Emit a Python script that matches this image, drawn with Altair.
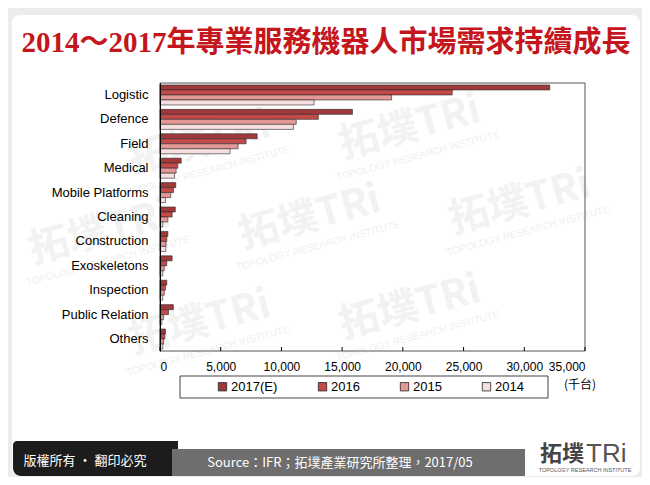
import altair as alt
import pandas as pd

categories = ["Logistic", "Defence", "Field", "Medical", "Mobile Platforms", "Cleaning",
              "Construction", "Exoskeletons", "Inspection", "Public Relation", "Others"]
years = ["2017(E)", "2016", "2015", "2014"]
v2017 = [32100, 15850, 8000, 1750, 1300, 1260, 650, 1000, 560, 1100, 450]
v2016 = [24070, 13040, 7090, 1470, 1110, 1000, 560, 560, 450, 700, 400]
v2015 = [19070, 11220, 6430, 1330, 890, 650, 500, 350, 350, 300, 290]
v2014 = [12690, 11000, 5770, 1200, 450, 230, 480, 230, 230, 150, 230]
colors = ["#A0393A", "#C44A4A", "#E39896", "#F6DEDE"]
tick_values = [0, 5000, 10000, 15000, 20000, 25000, 30000, 35000]

rows = []
for yr, vals in zip(years, [v2017, v2016, v2015, v2014]):
    for c, v in zip(categories, vals):
        rows.append({"category": c, "year": yr, "value": v})
df = pd.DataFrame(rows)

W, H = 425, 268
one = alt.Data(values=[{"k": 1}])

# decorative background panel
panel = alt.Chart(one).mark_rect(fill="white", cornerRadius=8).encode(
    x=alt.value(-148), x2=alt.value(480), y=alt.value(-68), y2=alt.value(393))

# faint watermark tiles (decoration), kept inside the panel
wm_x = [40, 250, -60, 150, 360, 40, 250]
wm_y = [60, 45, 150, 135, 120, 240, 225]
wm_df = pd.DataFrame({"wx": wm_x, "wy": wm_y})
wm1 = alt.Chart(wm_df).mark_text(text="拓墣TRi", fontSize=40, fontWeight="bold",
                                 font="Noto Sans CJK TC", color="#f2f2f2", angle=345,
                                 align="center", baseline="middle").encode(
    x=alt.X("wx:Q", scale=None), y=alt.Y("wy:Q", scale=None))
wm2 = alt.Chart(wm_df).transform_calculate(wx2="datum.wx + 8", wy2="datum.wy + 28").mark_text(
    text="TOPOLOGY RESEARCH INSTITUTE", fontSize=10, font="Liberation Sans",
    color="#f0f0f0", angle=345, align="center", baseline="middle").encode(
    x=alt.X("wx2:Q", scale=None), y=alt.Y("wy2:Q", scale=None))

title = alt.Chart(one).mark_text(
    text="2014～2017年專業服務機器人市場需求持續成長", font="Liberation Serif, Noto Sans CJK TC",
    fontSize=29, fontWeight="bold", color="#C4161C", align="center", baseline="middle"
).encode(x=alt.value(166), y=alt.value(-40))

frame = alt.Chart(one).mark_rect(fill=None, stroke="#555", strokeWidth=1).encode(
    x=alt.value(0), x2=alt.value(W), y=alt.value(0), y2=alt.value(H))

x_axis = alt.Axis(values=tick_values, format=",d", title=None, grid=False,
                  labelFontSize=12, labelColor="#000", labelPadding=10,
                  domain=False, ticks=False, labelFont="Liberation Sans", zindex=2)

bars = alt.Chart(df).mark_bar(stroke="#2a2a2a", strokeWidth=0.6).encode(
    x=alt.X("value:Q", scale=alt.Scale(domain=[0, 35000], nice=False), axis=x_axis),
    y=alt.Y("category:N", sort=categories,
            scale=alt.Scale(paddingInner=0.18, paddingOuter=0.08),
            axis=alt.Axis(title=None, ticks=False, labelFontSize=13, labelColor="#000",
                          labelPadding=12, domainColor="#000", labelFont="Liberation Sans",
                          zindex=2)),
    yOffset=alt.YOffset("year:N", sort=years, scale=alt.Scale(paddingInner=0, paddingOuter=0)),
    color=alt.Color("year:N", sort=years, scale=alt.Scale(domain=years, range=colors),
                    legend=alt.Legend(title=None, orient="none", legendX=56, legendY=297,
                                      direction="horizontal", columns=4, gridAlign="each",
                                      columnPadding=38, symbolType="square", symbolSize=70,
                                      symbolStrokeColor="#222", symbolStrokeWidth=0.8,
                                      labelFontSize=13, labelColor="#000", padding=0,
                                      labelFont="Liberation Sans", labelOffset=2, zindex=2)),
)

ticks_df = pd.DataFrame({"value": tick_values})
ticks = alt.Chart(ticks_df).mark_rule(color="#000", strokeWidth=1).encode(
    x=alt.X("value:Q", axis=x_axis), y=alt.value(H - 4), y2=alt.value(H))

legend_box = alt.Chart(one).mark_rect(fill=None, stroke="#444", strokeWidth=1).encode(
    x=alt.value(20), x2=alt.value(388), y=alt.value(293), y2=alt.value(315))

unit = alt.Chart(one).mark_text(text="(千台)", fontSize=12, font="Noto Sans CJK TC",
                                color="#000", align="left", baseline="middle").encode(
    x=alt.value(404), y=alt.value(302))

footer_dark = alt.Chart(one).mark_rect(fill="#1c1c1c", cornerRadiusBottomLeft=8,
                                       cornerRadiusTopLeft=4).encode(
    x=alt.value(-147), x2=alt.value(18), y=alt.value(358), y2=alt.value(393))
footer_gray = alt.Chart(one).mark_rect(fill="#6e6e6e").encode(
    x=alt.value(12), x2=alt.value(365), y=alt.value(366), y2=alt.value(393))
copyright_txt = alt.Chart(one).mark_text(text="版權所有 · 翻印必究", fontSize=13,
                                         font="Noto Sans CJK TC", color="white",
                                         align="center", baseline="middle").encode(
    x=alt.value(-75), y=alt.value(378))
source_txt = alt.Chart(one).mark_text(text="Source：IFR；拓墣產業研究所整理，2017/05", fontSize=13,
                                      font="Liberation Sans Narrow, Noto Sans CJK TC", color="white",
                                      align="center", baseline="middle").encode(
    x=alt.value(180), y=alt.value(380))
logo1 = alt.Chart(one).mark_text(text="拓墣", fontSize=22, fontWeight="bold",
                                 font="Noto Sans CJK TC", color="#444",
                                 align="left", baseline="middle").encode(
    x=alt.value(380), y=alt.value(371))
logo2 = alt.Chart(one).mark_text(text="TRi", fontSize=26, font="Liberation Sans",
                                 color="#555", align="left", baseline="middle").encode(
    x=alt.value(426), y=alt.value(371))
logo3 = alt.Chart(one).mark_text(text="TOPOLOGY RESEARCH INSTITUTE", fontSize=5.5,
                                 font="Liberation Sans", color="#555",
                                 align="center", baseline="middle").encode(
    x=alt.value(425), y=alt.value(387))

chart = alt.layer(
    panel, wm1, wm2, title, frame, bars, ticks, legend_box, unit, footer_dark, footer_gray,
    copyright_txt, source_txt, logo1, logo2, logo3
).properties(
    width=W, height=H,
    autosize=alt.AutoSizeParams(type="none"),
    padding={"left": 152, "top": 75, "right": 57, "bottom": 126},
    background="#ececec",
).configure_view(stroke=None).configure(font="Liberation Sans")

chart.save("out.html", embed_options={"renderer": "svg", "actions": False})
